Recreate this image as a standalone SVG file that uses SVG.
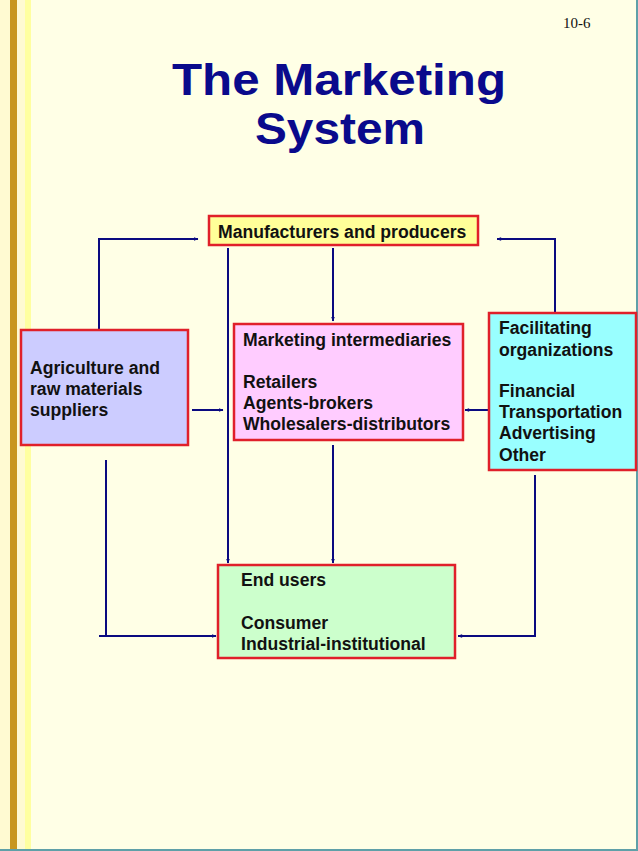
<svg xmlns="http://www.w3.org/2000/svg" width="638" height="851" viewBox="0 0 638 851">
<style>
.box{stroke:#E0202A;stroke-width:2.5}
.t{font-family:"Liberation Sans",Arial,sans-serif;font-weight:bold;font-size:17.6px;fill:#111}
.c{fill:none;stroke:#0A0A80;stroke-width:2}
.title{font-family:"Liberation Sans",Arial,sans-serif;font-weight:bold;font-size:44px;fill:#0A0A8C;text-anchor:middle}
</style>
<defs>
<marker id="ah" viewBox="0 0 10 10" refX="9" refY="5" markerWidth="5" markerHeight="5" orient="auto" markerUnits="userSpaceOnUse">
<path d="M0,1 L10,5 L0,9 L3,5 Z" fill="#0A0A80"/>
</marker>
</defs>
<rect width="638" height="851" fill="#FFFFE6"/>
<rect x="0" y="0" width="10" height="851" fill="#FFFAD2"/>
<rect x="10" y="0" width="7" height="851" fill="#C8961E"/>
<rect x="17" y="0" width="8" height="851" fill="#FFFAD2"/>
<rect x="25" y="0" width="6" height="851" fill="#FFFFA0"/>
<rect x="0" y="849" width="638" height="2" fill="#5FA0A8"/>
<rect x="636" y="0" width="2" height="851" fill="#5FA0A8"/>
<text x="563" y="28" font-family="Liberation Serif,serif" font-size="15" fill="#111">10-6</text>
<text class="title" x="339" y="95" textLength="334" lengthAdjust="spacingAndGlyphs">The Marketing</text>
<text class="title" x="340" y="144" textLength="170" lengthAdjust="spacingAndGlyphs">System</text>
<g id="connectors">
<polyline class="c" points="99,330 99,239 198,239" marker-end="url(#ah)"/>
<polyline class="c" points="555,313 555,239 497,239" marker-end="url(#ah)"/>
<line class="c" x1="228" y1="248" x2="228" y2="563" marker-end="url(#ah)"/>
<line class="c" x1="333" y1="248" x2="333" y2="321" marker-end="url(#ah)"/>
<line class="c" x1="192" y1="410" x2="223" y2="410" marker-end="url(#ah)"/>
<line class="c" x1="489" y1="410" x2="465" y2="410" marker-end="url(#ah)"/>
<line class="c" x1="333" y1="445" x2="333" y2="563" marker-end="url(#ah)"/>
<polyline class="c" points="106,460 106,636" />
<line class="c" x1="99" y1="636" x2="216" y2="636" marker-end="url(#ah)"/>
<polyline class="c" points="535,475 535,636 458,636" marker-end="url(#ah)"/>
</g>
<g id="manufacturers">
<rect class="box" x="209" y="216" width="269" height="29" fill="#FFFF99"/>
<text class="t" x="218" y="238">Manufacturers and producers</text>
</g>
<g id="intermediaries">
<rect class="box" x="234" y="324" width="229" height="116" fill="#FFCCFF"/>
<text class="t" x="243" y="346">Marketing intermediaries</text>
<text class="t" x="243" y="388">Retailers</text>
<text class="t" x="243" y="409">Agents-brokers</text>
<text class="t" x="243" y="430">Wholesalers-distributors</text>
</g>
<g id="agriculture">
<rect class="box" x="21" y="330" width="167" height="115" fill="#CCCCFF"/>
<text class="t" x="30" y="374">Agriculture and</text>
<text class="t" x="30" y="395">raw materials</text>
<text class="t" x="30" y="416">suppliers</text>
</g>
<g id="facilitating">
<rect class="box" x="489" y="313" width="147" height="157" fill="#99FFFF"/>
<text class="t" x="499" y="334">Facilitating</text>
<text class="t" x="499" y="356">organizations</text>
<text class="t" x="499" y="397">Financial</text>
<text class="t" x="499" y="418">Transportation</text>
<text class="t" x="499" y="439">Advertising</text>
<text class="t" x="499" y="461">Other</text>
</g>
<g id="endusers">
<rect class="box" x="218" y="565" width="237" height="93" fill="#CCFFCC"/>
<text class="t" x="241" y="586">End users</text>
<text class="t" x="241" y="629">Consumer</text>
<text class="t" x="241" y="650">Industrial-institutional</text>
</g>
</svg>
